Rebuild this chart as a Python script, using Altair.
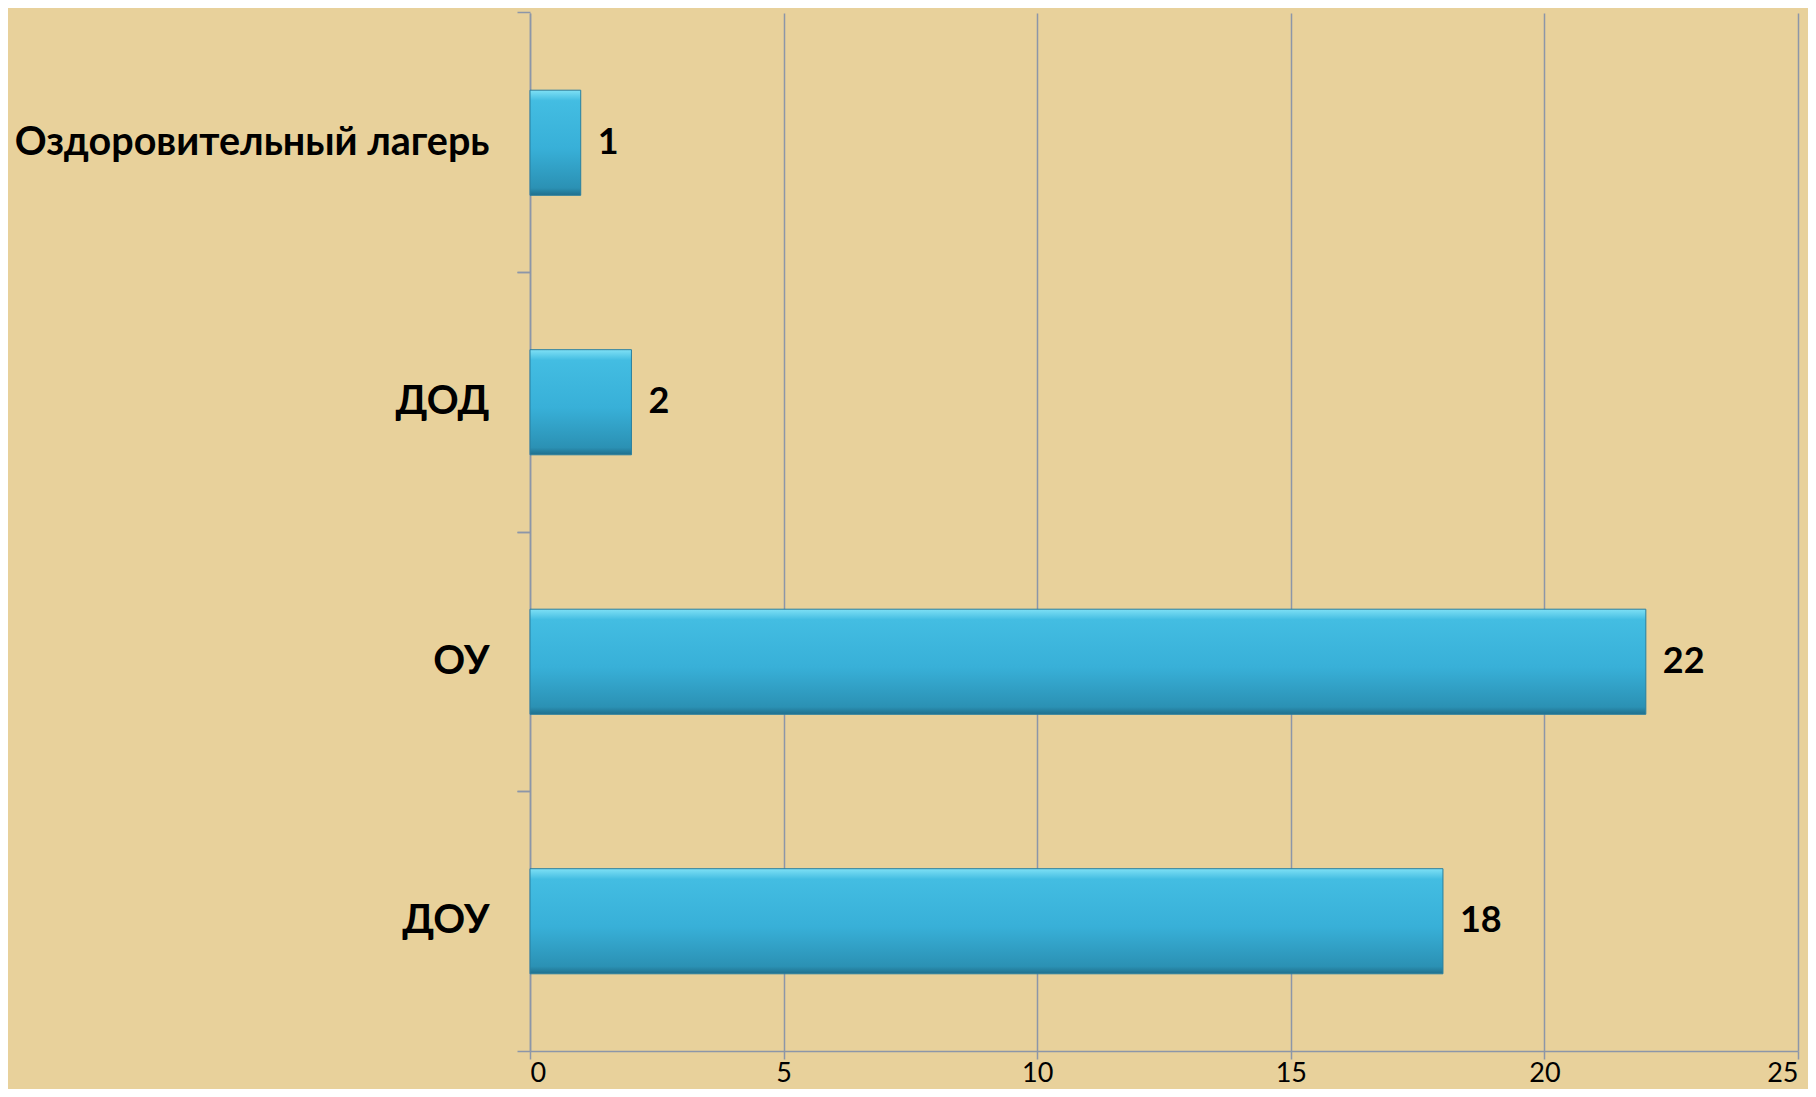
import altair as alt
import pandas as pd

categories = ["Оздоровительный лагерь", "ДОД", "ОУ", "ДОУ"]
values = [1, 2, 22, 18]
x_ticks = [0, 5, 10, 15, 20, 25]

df = pd.DataFrame({"cat": categories, "val": values})

grid_col = "#8c96a8"
font = "Lato"
p_in = 0.595
p_out = p_in / 2
bp_after = 1 + p_out / (1 - p_in)
bp_before = -p_out / (1 - p_in)

bar_fill = alt.Gradient(
    gradient="linear",
    stops=[
        alt.GradientStop(color="#7ee0f5", offset=0),
        alt.GradientStop(color="#43bde2", offset=0.1),
        alt.GradientStop(color="#38b0d8", offset=0.55),
        alt.GradientStop(color="#2b91b4", offset=0.93),
        alt.GradientStop(color="#1f6f8c", offset=1),
    ],
    x1=0, x2=0, y1=0, y2=1,
)

y_main = alt.Y(
    "cat:N",
    sort=categories,
    scale=alt.Scale(paddingInner=p_in, paddingOuter=p_out),
    axis=alt.Axis(
        title=None,
        orient="left",
        labelFont=font,
        labelFontWeight="bold",
        labelFontSize=39.5,
        labelColor="black",
        labelPadding=28,
        labelLimit=700,
        bandPosition=bp_after,
        tickSize=13,
        tickColor=grid_col,
        tickWidth=1.5,
        domainColor=grid_col,
        domainWidth=1.5,
        grid=False,
    ),
)

y_second = alt.Y(
    "cat:N",
    sort=categories,
    axis=alt.Axis(
        title=None,
        orient="left",
        labels=False,
        domain=False,
        bandPosition=bp_before,
        tickSize=13,
        tickColor=grid_col,
        tickWidth=1.5,
        grid=False,
    ),
)

x_enc = alt.X(
    "val:Q",
    scale=alt.Scale(domain=[0, 25], nice=False),
    axis=alt.Axis(
        title=None,
        values=x_ticks,
        labelFont=font,
        labelFontSize=27,
        labelColor="black",
        labelPadding=1,
        tickSize=8,
        tickColor=grid_col,
        tickWidth=1.5,
        domainColor=grid_col,
        domainWidth=1.5,
        gridColor=grid_col,
        gridWidth=1.5,
        grid=True,
    ),
)

bars = alt.Chart(df).mark_bar(
    fill=bar_fill, stroke="#2a7f9e", strokeWidth=1
).encode(x=x_enc, y=y_main)

labels = alt.Chart(df).mark_text(
    align="left", baseline="middle", dx=17, font=font, fontWeight="bold",
    fontSize=36, color="black"
).encode(x="val:Q", y=y_second, text="val:Q")

chart = (
    alt.layer(bars, labels)
    .resolve_axis(y="independent")
    .properties(
        width=1268,
        height=1038,
        background="#e8d19b",
        padding={"left": 522, "top": 5, "right": 10, "bottom": 38},
        autosize=alt.AutoSizeParams(type="none"),
    )
    .configure_view(stroke=None)
)

chart.save("out.html", embed_options={"renderer": "svg", "actions": False})
